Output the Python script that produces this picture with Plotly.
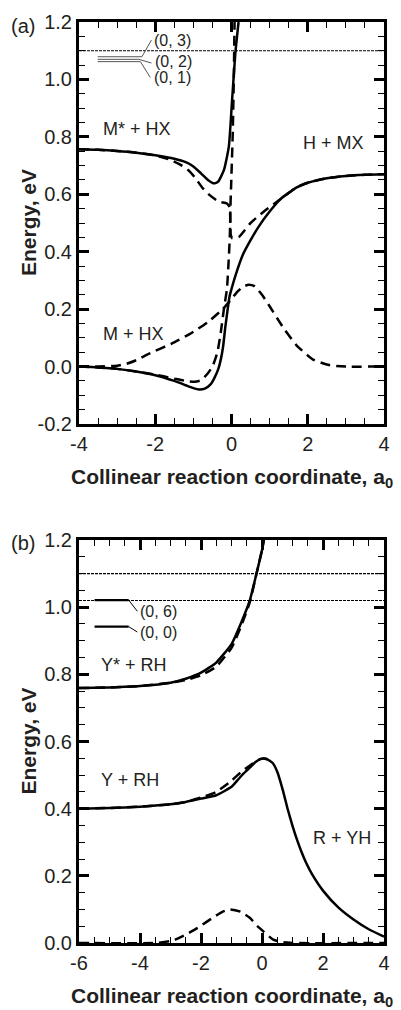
import plotly.graph_objects as go

# ---------------- Panel (a) data ----------------
a_lower_x = [-4, -3.5, -3, -2.5, -2, -1.5, -1.2, -1.0, -0.85, -0.7, -0.55, -0.45, -0.35, -0.28, -0.22,
             -0.16, -0.1, -0.05, 0.0, 0.1, 0.3, 0.5, 0.7, 1.0, 1.3, 1.7, 2.0, 2.5, 3.0, 3.5, 4.0]
a_lower_e = [0.0, -0.003, -0.008, -0.017, -0.03, -0.05, -0.065, -0.075, -0.08, -0.077, -0.062, -0.04,
             -0.01, 0.025, 0.07, 0.14, 0.2, 0.245, 0.27, 0.315, 0.39, 0.44, 0.485, 0.54, 0.585, 0.623,
             0.64, 0.656, 0.664, 0.668, 0.67]

a_upper_x = [-4, -3.5, -3, -2.5, -2, -1.5, -1.2, -1.0, -0.8, -0.6, -0.46, -0.35, -0.2, -0.07, 0.01, 0.1, 0.185]
a_upper_e = [0.757, 0.755, 0.751, 0.745, 0.736, 0.724, 0.712, 0.697, 0.673, 0.648, 0.638, 0.644, 0.684,
             0.766, 0.917, 1.09, 1.2]

a_dash_upper_x = [-4, -3.5, -3, -2.5, -2, -1.6, -1.3, -1.1, -0.95, -0.76, -0.58, -0.33, -0.12, -0.05,
                  -0.03, -0.02, 0.02, 0.1, 0.2, 0.5, 0.85, 1.2, 1.7, 2.0, 2.5, 3.0, 3.5, 4.0]
a_dash_upper_e = [0.757, 0.755, 0.751, 0.745, 0.735, 0.72, 0.7, 0.68, 0.657, 0.622, 0.598, 0.574, 0.568,
                  0.555, 0.5, 0.46, 0.447, 0.447, 0.452, 0.5, 0.54, 0.575, 0.623, 0.64, 0.656, 0.664,
                  0.668, 0.67]

a_dash_steep_x = [-4, -3.5, -3, -2.5, -2, -1.5, -1.2, -0.97, -0.8, -0.63, -0.5, -0.37, -0.28, -0.2, -0.12,
                  -0.07, -0.04, -0.03, -0.01, 0.03, 0.06, 0.08]
a_dash_steep_e = [0.0, -0.003, -0.008, -0.017, -0.028, -0.042, -0.05, -0.053, -0.048, -0.025, 0.0, 0.05,
                  0.12, 0.2, 0.27, 0.38, 0.47, 0.55, 0.63, 0.8, 1.0, 1.2]

a_dash_bump_x = [-4, -3.5, -3, -2.75, -2.5, -2.16, -1.57, -1.1, -0.62, -0.23, 0.0, 0.15, 0.3, 0.45, 0.6,
                 0.8, 1.0, 1.36, 1.7, 2.13, 2.5, 2.75, 3.0, 4.0]
a_dash_bump_e = [0.0, 0.0, 0.003, 0.01, 0.022, 0.045, 0.08, 0.113, 0.155, 0.2, 0.235, 0.26, 0.278, 0.285,
                 0.28, 0.25, 0.21, 0.135, 0.075, 0.025, 0.007, 0.002, 0.0, 0.0]

a_dotted_e = [1.1]
a_levels = ["(0, 3)", "(0, 2)", "(0, 1)"]
a_level_e = [1.079, 1.070, 1.062]
a_level_x0 = [-3.51, -3.51, -3.51]
a_level_x1 = [-2.35, -2.43, -2.39]
a_leader_x = [-2.10, -2.10, -2.13]
a_leader_e = [1.137, 1.057, 1.007]
a_label_x = [-2.09, -2.06, -2.09]
a_label_e = [1.137, 1.061, 1.005]

a_species = ["M* + HX", "H + MX", "M + HX"]
a_species_x = [-3.41, 1.81, -3.41]
a_species_e = [0.827, 0.779, 0.113]

# ---------------- Panel (b) data ----------------
b_upper_x = [-6, -5, -4, -3, -2.5, -2, -1.5, -1.0, -0.7, -0.4, -0.18, 0.0, 0.06]
b_upper_e = [0.759, 0.761, 0.765, 0.775, 0.787, 0.805, 0.835, 0.89, 0.95, 1.02, 1.10, 1.17, 1.2]
b_dash_upper_x = [-6, -5, -4, -3, -2.5, -2, -1.5, -1.0, -0.7, -0.4, -0.18, 0.0, 0.06]
b_dash_upper_e = [0.759, 0.761, 0.765, 0.775, 0.783, 0.797, 0.823, 0.879, 0.94, 1.015, 1.10, 1.17, 1.2]

b_lower_x = [-6, -5, -4, -3, -2.5, -2, -1.5, -1.0, -0.8, -0.6, -0.4, -0.2, 0.0, 0.15, 0.35, 0.5, 0.68,
             0.85, 1.0, 1.15, 1.3, 1.45, 1.64, 2.0, 2.5, 3.0, 3.5, 4.0]
b_lower_e = [0.40, 0.402, 0.406, 0.413, 0.42, 0.43, 0.44, 0.465, 0.485, 0.505, 0.522, 0.54, 0.549, 0.548,
             0.536, 0.51, 0.456, 0.396, 0.349, 0.307, 0.27, 0.238, 0.205, 0.156, 0.106, 0.07, 0.041, 0.019]
b_dash_lower_x = [-6, -5, -4, -3, -2.5, -2, -1.5, -1.0, -0.8, -0.6, -0.34, -0.1, 0.0, 0.15, 0.35]
b_dash_lower_e = [0.40, 0.402, 0.406, 0.413, 0.42, 0.433, 0.45, 0.483, 0.50, 0.515, 0.532, 0.546, 0.549,
                  0.548, 0.536]

b_dash_bump_x = [-6, -3.5, -3, -2.85, -2.5, -2.11, -1.57, -1.3, -1.04, -0.7, -0.4, -0.15, 0.05, 0.37,
                 0.7, 1.0, 4.0]
b_dash_bump_e = [0.0, 0.0, 0.006, 0.01, 0.025, 0.045, 0.078, 0.093, 0.1, 0.093, 0.075, 0.05, 0.034, 0.01,
                 0.002, 0.0, 0.0]

b_dotted_e = [1.1, 1.02]
b_levels = ["(0, 6)", "(0, 0)"]
b_level_e = [1.021, 0.942]
b_level_x0 = [-5.49, -5.49]
b_level_x1 = [-4.37, -4.37]
b_leader_x = [-4.09, -4.09]
b_leader_e = [0.988, 0.926]
b_label_x = [-4.05, -4.05]
b_label_e = [0.986, 0.924]

b_species = ["Y* + RH", "Y + RH", "R + YH"]
b_species_x = [-5.33, -5.33, 1.59]
b_species_e = [0.828, 0.485, 0.313]

# ticks
a_xticks = [-4, -2, 0, 2, 4]
a_xtext = ["-4", "-2", "0", "2", "4"]
a_yticks = [-0.2, 0.0, 0.2, 0.4, 0.6, 0.8, 1.0, 1.2]
a_ytext = ["-0.2", "0.0", "0.2", "0.4", "0.6", "0.8", "1.0", "1.2"]
b_xticks = [-6, -4, -2, 0, 2, 4]
b_xtext = ["-6", "-4", "-2", "0", "2", "4"]
b_yticks = [0.0, 0.2, 0.4, 0.6, 0.8, 1.0, 1.2]
b_ytext = ["0.0", "0.2", "0.4", "0.6", "0.8", "1.0", "1.2"]

# ---------------- layout geometry ----------------
W, H = 401, 1010
ML, MR, MT, MB = 79, 11, 22, 67
PH = H - MT - MB
PW = W - ML - MR
TOP_A, BOT_A = 22, 424
TOP_B, BOT_B = 540, 943


def py2paper(py):
    return (H - MB - py) / PH


def px2paper(px):
    return (px - ML) / PW


INK = "#000000"
TXT = "#231f20"
FONT = "Liberation Sans, Arial, Helvetica, sans-serif"
DASH = "10px,6px"
LW = 2.5

fig = go.Figure()


def line(x, y, xa, ya, dash=None, width=LW, color=INK):
    fig.add_trace(go.Scatter(x=x, y=y, xaxis=xa, yaxis=ya, mode="lines", showlegend=False,
                             hoverinfo="skip",
                             line=dict(color=color, width=width, dash=dash, shape="spline",
                                       smoothing=0.5)))


def straight(x, y, xa, ya, dash=None, width=1, color=INK):
    fig.add_trace(go.Scatter(x=x, y=y, xaxis=xa, yaxis=ya, mode="lines", showlegend=False,
                             hoverinfo="skip", line=dict(color=color, width=width, dash=dash)))


# Panel (a)
for e in a_dotted_e:
    straight([-4, 4], [e, e], "x", "y", dash="3px,1px", width=1.1)
for i in range(len(a_levels)):
    straight([a_level_x0[i], a_level_x1[i], a_leader_x[i]],
             [a_level_e[i], a_level_e[i], a_leader_e[i]], "x", "y", width=1, color="#555555")
line(a_dash_bump_x, a_dash_bump_e, "x", "y", dash=DASH)
line(a_dash_upper_x, a_dash_upper_e, "x", "y", dash=DASH)
line(a_dash_steep_x, a_dash_steep_e, "x", "y", dash=DASH)
line(a_upper_x, a_upper_e, "x", "y")
line(a_lower_x, a_lower_e, "x", "y")

# Panel (b)
for e in b_dotted_e:
    straight([-6, 4], [e, e], "x2", "y2", dash="3px,1px", width=1.1)
for i in range(len(b_levels)):
    straight([b_level_x0[i], b_level_x1[i]], [b_level_e[i], b_level_e[i]], "x2", "y2", width=2.2)
    straight([b_level_x1[i], b_leader_x[i]], [b_level_e[i], b_leader_e[i]], "x2", "y2", width=1)
line(b_dash_bump_x, b_dash_bump_e, "x2", "y2", dash=DASH)
line(b_dash_upper_x, b_dash_upper_e, "x2", "y2", dash=DASH)
line(b_dash_lower_x, b_dash_lower_e, "x2", "y2", dash=DASH)
line(b_upper_x, b_upper_e, "x2", "y2")
line(b_lower_x, b_lower_e, "x2", "y2")

axis_common = dict(showline=True, linewidth=3, linecolor=INK, mirror="ticks", ticks="inside",
                   ticklen=10, tickwidth=2.5, tickcolor=INK, showgrid=False, zeroline=False,
                   tickfont=dict(family=FONT, size=20, color=TXT), tickmode="array")

annos = []
for i, t in enumerate(a_levels):
    annos.append(dict(x=a_label_x[i], y=a_label_e[i], xref="x", yref="y", text=t, showarrow=False,
                      xanchor="left", yanchor="middle", font=dict(family=FONT, size=16, color=TXT)))
for i, t in enumerate(a_species):
    annos.append(dict(x=a_species_x[i], y=a_species_e[i], xref="x", yref="y", text=t, showarrow=False,
                      xanchor="left", yanchor="middle", font=dict(family=FONT, size=18, color=TXT)))
for i, t in enumerate(b_levels):
    annos.append(dict(x=b_label_x[i], y=b_label_e[i], xref="x2", yref="y2", text=t, showarrow=False,
                      xanchor="left", yanchor="middle", font=dict(family=FONT, size=16, color=TXT)))
for i, t in enumerate(b_species):
    annos.append(dict(x=b_species_x[i], y=b_species_e[i], xref="x2", yref="y2", text=t, showarrow=False,
                      xanchor="left", yanchor="middle", font=dict(family=FONT, size=18, color=TXT)))

annos.append(dict(x=px2paper(8), y=py2paper(26), xref="paper", yref="paper", text="(a)", showarrow=False,
                  xanchor="left", yanchor="middle", font=dict(family=FONT, size=20, color=TXT)))
annos.append(dict(x=px2paper(8), y=py2paper(543), xref="paper", yref="paper", text="(b)", showarrow=False,
                  xanchor="left", yanchor="middle", font=dict(family=FONT, size=20, color=TXT)))
for yc in [(TOP_A + BOT_A) / 2, (TOP_B + BOT_B) / 2]:
    annos.append(dict(x=px2paper(27), y=py2paper(yc), xref="paper", yref="paper",
                      text="<b>Energy, eV</b>", textangle=-90, showarrow=False,
                      xanchor="center", yanchor="middle", font=dict(family=FONT, size=21, color=TXT)))
for yc in [BOT_A + 54, BOT_B + 54]:
    annos.append(dict(x=px2paper(234.5), y=py2paper(yc), xref="paper", yref="paper",
                      text="<b>Collinear reaction coordinate, a<sub>0</sub></b>", showarrow=False,
                      xanchor="center", yanchor="middle", font=dict(family=FONT, size=21, color=TXT)))

minor_x = dict(ticks="inside", ticklen=6, tickwidth=1.2, tickcolor=INK, dtick=0.5)
minor_y = dict(ticks="inside", ticklen=6, tickwidth=1.2, tickcolor=INK, dtick=0.05)

fig.update_layout(
    width=W, height=H, margin=dict(l=ML, r=MR, t=MT, b=MB),
    paper_bgcolor="white", plot_bgcolor="white",
    xaxis=dict(axis_common, domain=[0, 1], anchor="y", range=[-4, 4], tickvals=a_xticks, ticktext=a_xtext,
               minor=dict(minor_x)),
    yaxis=dict(axis_common, domain=[py2paper(BOT_A), py2paper(TOP_A)], anchor="x", range=[-0.2, 1.2],
               tickvals=a_yticks, ticktext=a_ytext, minor=dict(minor_y)),
    xaxis2=dict(axis_common, domain=[0, 1], anchor="y2", range=[-6, 4], tickvals=b_xticks, ticktext=b_xtext,
                minor=dict(minor_x)),
    yaxis2=dict(axis_common, domain=[py2paper(BOT_B), py2paper(TOP_B)], anchor="x2", range=[0, 1.2],
                tickvals=b_yticks, ticktext=b_ytext, minor=dict(minor_y)),
    annotations=annos,
)

fig.write_html("out.html")
